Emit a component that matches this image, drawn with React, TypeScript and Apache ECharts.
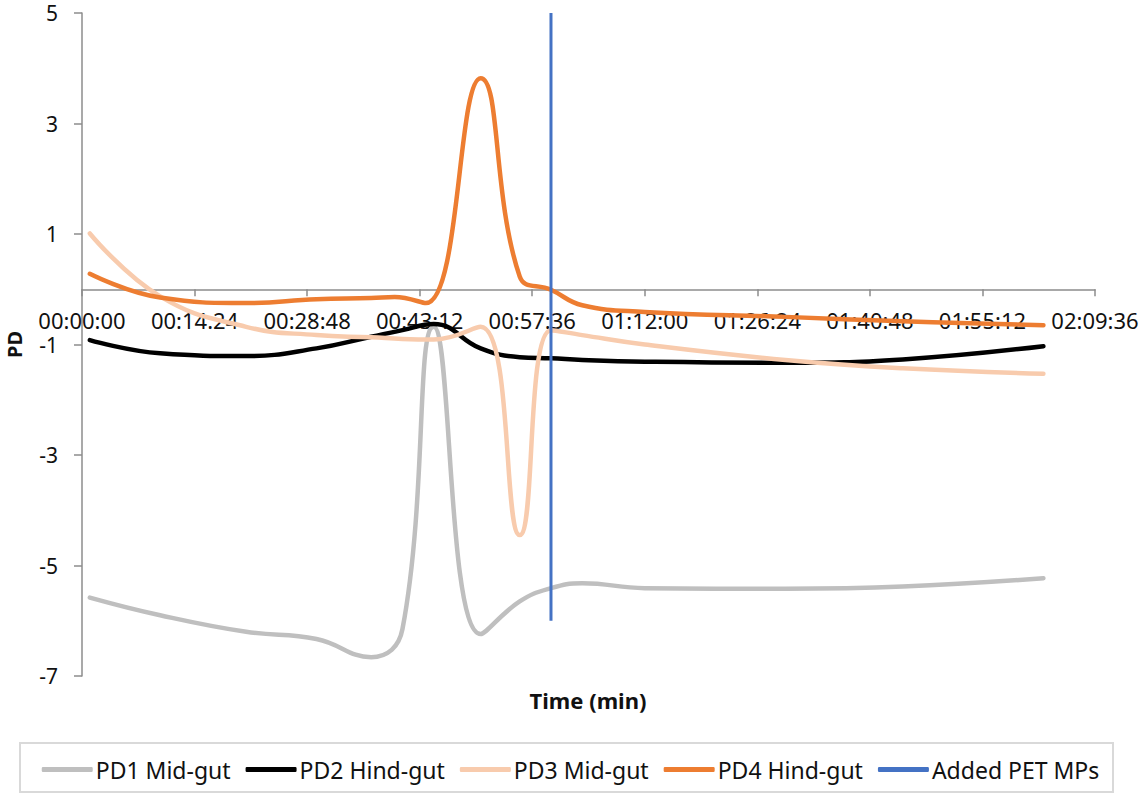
import React, { useEffect, useRef } from "react";
import * as echarts from "echarts";

// Sample times in minutes and PD readings for each probe
const midGutTimes = [1, 10, 21, 30, 37, 41, 45, 51, 56, 60, 64, 72, 90, 105, 123];
const pd1Values = [-5.58, -5.9, -6.2, -6.33, -6.66, -6.15, -0.68, -6.24, -5.65, -5.41, -5.32, -5.41, -5.42, -5.38, -5.23];
const pd2Values = [-0.92, -1.16, -1.21, -1.07, -0.86, -0.74, -0.63, -1.07, -1.23, -1.25, -1.28, -1.31, -1.33, -1.27, -1.03];
const pd3Values = [1.01, -0.13, -0.68, -0.83, -0.87, -0.9, -0.91, -0.68, -4.45, -0.74, -0.83, -1.0, -1.28, -1.43, -1.53];

const hindGutTimes = [1, 10, 21, 30, 37, 40, 44, 51, 56, 60, 64, 72, 90, 105, 123];
const pd4Values = [0.28, -0.15, -0.25, -0.18, -0.16, -0.14, -0.25, 3.82, 0.23, -0.01, -0.29, -0.41, -0.5, -0.58, -0.65];

// Marker for when PET microplastics were added
const additionTime = [60, 60];
const additionLevel = [5, -6];

const seriesNames = ["PD1 Mid-gut", "PD2 Hind-gut", "PD3 Mid-gut", "PD4 Hind-gut", "Added PET MPs"];
const seriesColors = ["#BFBFBF", "#000000", "#F8CBAD", "#ED7D31", "#4472C4"];

const xTickSeconds = 864;
const xMaxSeconds = 7776;
const yTicks = [-7, -5, -3, -1, 1, 3, 5];

const FONT = "'Noto Sans', 'Open Sans', sans-serif";

// Plot area in pixels
const GRID_LEFT = 82;
const GRID_RIGHT = 46;
const GRID_TOP = 13;
const GRID_BOTTOM = 120;
const CHART_H = 796;

const toPairs = (times: number[], values: number[]) =>
  times.map((t, i) => [t * 60, values[i]]);

const hms = (s: number) => {
  const h = Math.floor(s / 3600);
  const m = Math.floor((s % 3600) / 60);
  const sec = Math.round(s % 60);
  const p = (n: number) => String(n).padStart(2, "0");
  return `${p(h)}:${p(m)}:${p(sec)}`;
};

export default function App() {
  const ref = useRef<HTMLDivElement>(null);

  useEffect(() => {
    if (!ref.current) return;
    const chart = echarts.init(ref.current, undefined, { renderer: "svg" });

    // The time axis sits on PD = 0, labels included
    const yMin = yTicks[0];
    const yMax = yTicks[yTicks.length - 1];
    const plotH = CHART_H - GRID_TOP - GRID_BOTTOM;
    const zeroFromBottom = ((0 - yMin) / (yMax - yMin)) * plotH;

    const lineSeries = (name: string, color: string, data: number[][], width: number) => ({
      name,
      type: "line",
      data,
      smooth: 0.45,
      symbol: "none",
      lineStyle: { color, width, cap: "round", join: "round" },
      itemStyle: { color },
    });

    chart.setOption({
      animation: false,
      textStyle: { fontFamily: FONT },
      grid: {
        left: GRID_LEFT,
        right: GRID_RIGHT,
        top: GRID_TOP,
        bottom: GRID_BOTTOM,
        containLabel: false,
        outerBoundsMode: "none",
      },
      xAxis: {
        type: "value",
        min: 0,
        max: xMaxSeconds,
        interval: xTickSeconds,
        offset: -zeroFromBottom,
        axisLine: { onZero: false, lineStyle: { color: "#8C8C8C", width: 1.5 } },
        axisTick: { show: true, inside: false, length: 7, lineStyle: { color: "#8C8C8C", width: 1.5 } },
        axisLabel: {
          color: "#111",
          fontSize: 22,
          fontFamily: FONT,
          margin: 20,
          hideOverlap: false,
          formatter: (v: number) => hms(v),
        },
        splitLine: { show: false },
      },
      yAxis: {
        type: "value",
        min: yMin,
        max: yMax,
        interval: 2,
        name: "PD",
        nameLocation: "middle",
        nameGap: 58,
        nameTextStyle: { color: "#111", fontSize: 20, fontWeight: "bold", fontFamily: FONT },
        axisLine: { show: true, lineStyle: { color: "#8C8C8C", width: 1.5 } },
        axisTick: { show: true, length: 8, lineStyle: { color: "#8C8C8C", width: 1.5 } },
        axisLabel: { color: "#111", fontSize: 21, fontFamily: FONT, margin: 24 },
        splitLine: { show: false },
      },
      legend: {
        data: seriesNames,
        left: "center",
        top: 753,
        itemWidth: 51,
        itemHeight: 5,
        itemGap: 15,
        icon: "roundRect",
        textStyle: { color: "#111", fontSize: 23, fontFamily: FONT, padding: [0, 0, 0, -2] },
      },
      graphic: [
        {
          type: "rect",
          shape: { x: 20, y: 743, width: 1093, height: 49 },
          style: { fill: "none", stroke: "#D9D9D9", lineWidth: 2 },
          silent: true,
        },
        {
          type: "text",
          x: 588,
          y: 700,
          style: {
            text: "Time (min)",
            fill: "#111",
            font: `bold 22px ${FONT}`,
            textAlign: "center",
            textVerticalAlign: "middle",
          },
        },
      ],
      series: [
        lineSeries(seriesNames[0], seriesColors[0], toPairs(midGutTimes, pd1Values), 4.5),
        lineSeries(seriesNames[1], seriesColors[1], toPairs(midGutTimes, pd2Values), 4.5),
        lineSeries(seriesNames[2], seriesColors[2], toPairs(midGutTimes, pd3Values), 4.5),
        lineSeries(seriesNames[3], seriesColors[3], toPairs(hindGutTimes, pd4Values), 4.5),
        {
          name: seriesNames[4],
          type: "line",
          data: toPairs(additionTime, additionLevel),
          symbol: "none",
          lineStyle: { color: seriesColors[4], width: 3 },
          itemStyle: { color: seriesColors[4] },
        },
      ],
    });

    return () => chart.dispose();
  }, []);

  return (
    <div
      ref={ref}
      style={{ position: "fixed", left: 0, top: 0, width: 1141, height: CHART_H, background: "#fff" }}
    />
  );
}
